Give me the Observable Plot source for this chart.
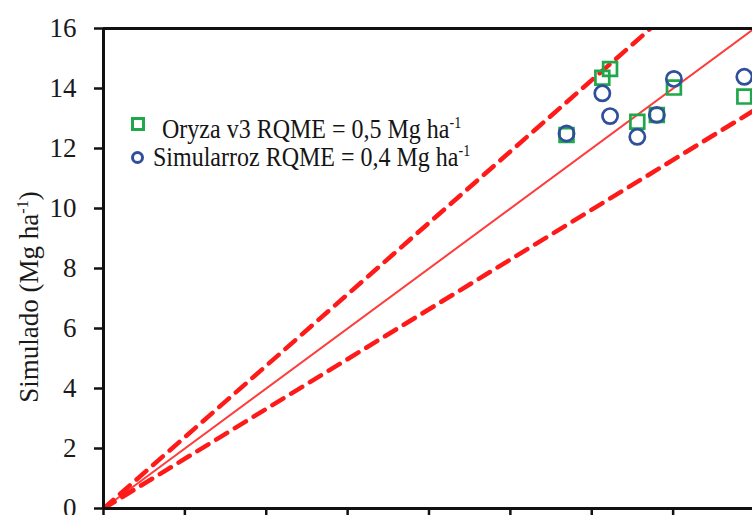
<!DOCTYPE html>
<html><head><meta charset="utf-8">
<script src="https://cdn.jsdelivr.net/npm/d3@7"></script>
<script src="https://cdn.jsdelivr.net/npm/@observablehq/plot@0.6"></script>
<style>
html,body{margin:0;padding:0;background:#fff;}
#wrap{position:relative;width:752px;height:515px;overflow:hidden;font-family:"Liberation Serif","Times New Roman",serif;}
.leg{position:absolute;font-size:24px;line-height:24px;color:#151515;white-space:nowrap;transform:scaleY(1.12);transform-origin:0 20px;}
.leg sup{font-size:14px;line-height:0;vertical-align:9px;}
.mk{position:absolute;box-sizing:border-box;}
</style></head><body><div id="wrap"></div>
<script>
// Observed (x) vs simulated (y) grain yield, Mg ha-1
const observed      = [11.38, 12.26, 12.45, 13.12, 13.60, 14.02, 15.75];
const oryzaSim      = [12.45, 14.36, 14.65, 12.89, 13.12, 14.03, 13.73];
const simularrozSim = [12.50, 13.84, 13.08, 12.39, 13.12, 14.32, 14.39];
const seriesNames   = ["Oryza v3 RQME = 0,5 Mg ha", "Simularroz RQME = 0,4 Mg ha"];
const yTicks = [0, 2, 4, 6, 8, 10, 12, 14, 16];
const xTicks = [0, 2, 4, 6, 8, 10, 12, 14, 16];
// reference lines (1:1 and the upper/lower dashed bounds), as end points
const lineOneToOne = [[0, 0], [16, 16]];
const lineUpper    = [[0, 0], [16, 19.04]];
const lineLower    = [[0, 0], [16, 13.28]];
const yLabel = "Simulado (Mg ha";

const green = "#1fa84a", blue = "#2f4f9c", red = "#ff1a1a";
const oryza = observed.map((o, i) => ({obs: o, sim: oryzaSim[i]}));
const simul = observed.map((o, i) => ({obs: o, sim: simularrozSim[i]}));

const plot = Plot.plot({
  width: 752, height: 515,
  marginLeft: 103, marginRight: 0, marginTop: 28, marginBottom: 7,
  x: {domain: [0, 16], range: [103, 754]},
  y: {domain: [0, 16], range: [508, 28]},
  style: {fontFamily: "'Liberation Serif','Times New Roman',serif", background: "white", color: "#1a1a1a"},
  marks: [
    Plot.line(lineOneToOne, {x: d => d[0], y: d => d[1], stroke: "#ff3c3c", strokeWidth: 2, clip: true}),
    Plot.line(lineUpper, {x: d => d[0], y: d => d[1], stroke: red, strokeWidth: 4.5, strokeDasharray: "13,9", clip: true}),
    Plot.line(lineLower, {x: d => d[0], y: d => d[1], stroke: red, strokeWidth: 4.5, strokeDasharray: "13,9", clip: true}),
    Plot.dot(oryza, {x: "obs", y: "sim", symbol: "square", r: 7.8, stroke: green, strokeWidth: 2.7, fill: "none"}),
    Plot.dot(simul, {x: "obs", y: "sim", symbol: "circle", r: 7.6, stroke: blue, strokeWidth: 2.7, fill: "none"}),
    Plot.axisY({ticks: yTicks, tickSize: 9, tickPadding: 18, fontSize: 27, tickFormat: d => String(d), label: null, strokeWidth: 2.5, stroke: "#111"}),
    Plot.axisX({ticks: xTicks, tickSize: 8, tickFormat: () => "", label: null, strokeWidth: 2.5, stroke: "#111"}),
    Plot.ruleX([0], {stroke: "#111", strokeWidth: 3}),
    Plot.ruleY([0, 16], {stroke: "#111", strokeWidth: 3})
  ]
});
const wrap = document.getElementById("wrap");
wrap.appendChild(plot);

// rotated y-axis title with superscript
const svg = d3.select(plot);
const t = svg.append("text")
  .attr("transform", "translate(38,297) rotate(-90)")
  .attr("text-anchor", "middle")
  .attr("font-size", 27)
  .attr("fill", "#1a1a1a");
t.append("tspan").text(yLabel);
t.append("tspan").attr("font-size", 16).attr("dy", -10).text("-1");
t.append("tspan").attr("dy", 10).text(")");

// legend
function legRow(top, textLeft, name, markerHtml) {
  const d = document.createElement("div");
  d.className = "leg";
  d.style.top = top + "px";
  d.style.left = textLeft + "px";
  d.innerHTML = name + "<sup>-1</sup>";
  wrap.appendChild(d);
  wrap.insertAdjacentHTML("beforeend", markerHtml);
}
legRow(118, 162, seriesNames[0],
  `<div class="mk" style="left:131px;top:117px;width:14px;height:14px;border:3px solid ${green};"></div>`);
legRow(146, 153, seriesNames[1],
  `<div class="mk" style="left:131px;top:151px;width:13px;height:13px;border:3.2px solid ${blue};border-radius:50%;"></div>`);
</script>
</body></html>
